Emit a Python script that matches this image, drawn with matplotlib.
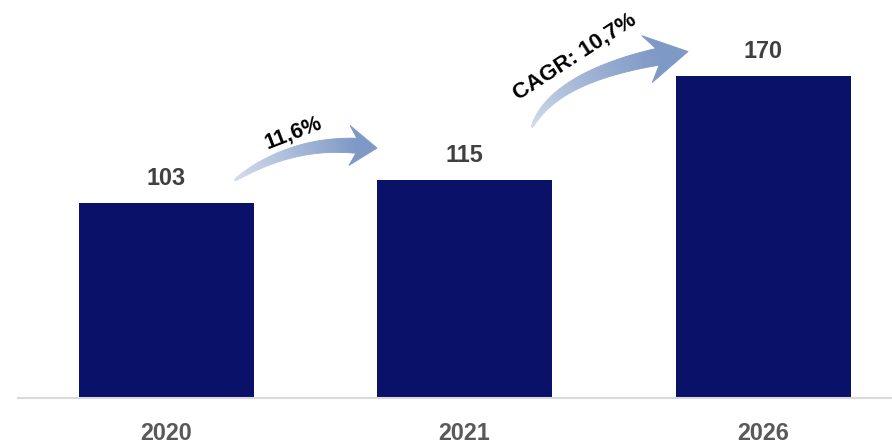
import matplotlib
matplotlib.use("Agg")
import matplotlib.pyplot as plt
import numpy as np
from matplotlib.patches import Polygon
from matplotlib.transforms import IdentityTransform
from matplotlib.colors import to_rgb

years = ["2020", "2021", "2026"]
values = [103, 115, 170]
growth_labels = ["11,6%", "CAGR: 10,7%"]

plt.rcParams["font.family"] = ["Liberation Sans", "DejaVu Sans"]


def curved_arrow(ax, p0, p1, a, b, tail_w, head_w, head_len, c0, c1):
    # tapered, curved arrow drawn in pixel space with a colour gradient
    P0 = ax.transData.transform(p0)
    P1 = ax.transData.transform(p1)
    d = P1 - P0
    L = np.hypot(*d)
    n = np.array([-d[1], d[0]]) / L
    C = P0 + a * d + b * L * n
    t = np.linspace(0, 1, 400)[:, None]
    B = (1 - t) ** 2 * P0 + 2 * (1 - t) * t * C + t ** 2 * P1
    seg = np.hypot(*np.diff(B, axis=0).T)
    s = np.concatenate([[0], np.cumsum(seg)])
    S = s[-1]
    tan = np.gradient(B, axis=0)
    tan /= np.hypot(*tan.T)[:, None]
    nor = np.column_stack([-tan[:, 1], tan[:, 0]])
    i_barb = np.searchsorted(s, S - head_len)
    i_join = np.searchsorted(s, S - head_len * 0.75)
    w = tail_w * (s[: i_join + 1] / s[i_join]) ** 0.6 + 1.0
    cA, cB = np.array(to_rgb(c0)), np.array(to_rgb(c1))
    nseg = 40
    idx = np.linspace(0, i_join, nseg + 1).astype(int)
    for k in range(nseg):
        i, j = idx[k], idx[k + 1]
        sl = slice(i, j + 1)
        left = B[sl] + nor[sl] * w[sl, None] / 2
        right = B[sl] - nor[sl] * w[sl, None] / 2
        poly = np.vstack([left, right[::-1]])
        f = (k + 0.5) / nseg
        col = cA + (cB - cA) * f
        ax.add_patch(Polygon(poly, closed=True, transform=IdentityTransform(),
                             facecolor=col, edgecolor=col, lw=0.6))
    base = B[i_barb]
    nb = nor[i_barb]
    jn = B[i_join]
    nj = nor[i_join]
    head = np.array([jn + nj * w[-1] / 2, base + nb * head_w / 2, P1,
                     base - nb * head_w / 2, jn - nj * w[-1] / 2])
    ax.add_patch(Polygon(head, closed=True, transform=IdentityTransform(),
                         facecolor=cB, edgecolor=cB, lw=0.6))


fig = plt.figure(figsize=(8.92, 4.44), dpi=100)
ax = fig.add_axes([18 / 892, 46 / 444, 874 / 892, 398 / 444])

x = list(range(len(years)))
ax.bar(x, values, width=0.586, color="#0A1168")

for xi, v in zip(x, values):
    ax.annotate(str(v), (xi, v), xytext=(0, 13), textcoords="offset points",
                ha="center", va="baseline", fontsize=16.8, fontweight="bold",
                color="#404040")

ax.set_xlim(-0.496, 2.432)
ax.set_ylim(0, 210.2)
ax.set_xticks(x)
ax.set_xticklabels(years, fontsize=16.8, fontweight="bold", color="#595959")
ax.tick_params(axis="x", length=0, pad=17.5)
ax.set_yticks([])
for s in ["top", "right", "left"]:
    ax.spines[s].set_visible(False)
ax.spines["bottom"].set_color("#D9D9D9")
ax.spines["bottom"].set_linewidth(1.5)

# curved growth arrows
curved_arrow(ax, (0.23, values[0] + 12), (0.707, values[1] + 17),
             0.5, 0.2, 14, 40, 28, "#D3DDEC", "#7F99C6")
curved_arrow(ax, (1.226, values[1] + 28), (1.749, values[2] + 13),
             0.27, 0.23, 16, 48, 42, "#D3DDEC", "#7F99C6")

ax.text(0.425, 140, growth_labels[0], rotation=21, ha="center", va="center",
        fontsize=15.5, fontweight="bold", color="black")
ax.text(1.37, 180, growth_labels[1], rotation=33, ha="center", va="center",
        fontsize=16, fontweight="bold", color="black")

fig.savefig("out.png", dpi=100)
